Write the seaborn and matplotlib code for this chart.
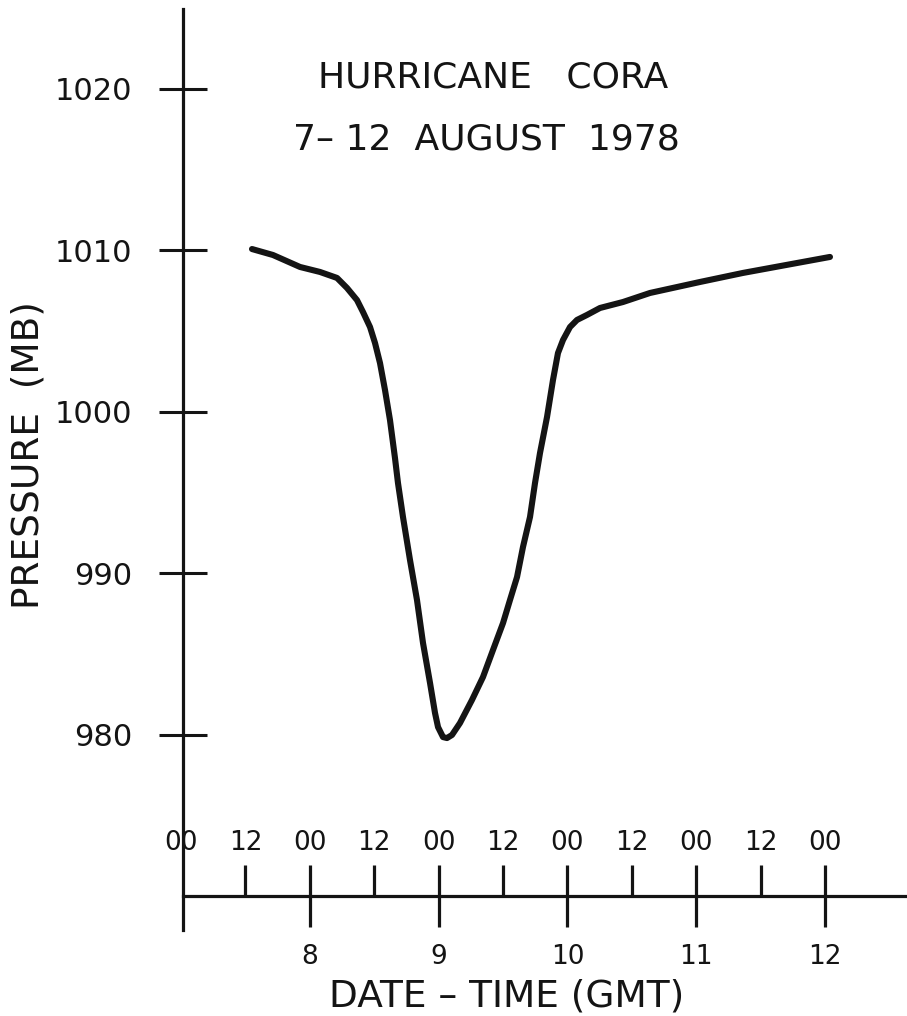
import numpy as np
import pandas as pd
import matplotlib
matplotlib.use("Agg")
import matplotlib.pyplot as plt
import seaborn as sns

# ---- data (hours after 00 GMT 7 Aug 1978, pressure in mb) ----
hours = [13.23, 17.14, 22.17, 25.90, 29.07, 30.93, 32.79, 33.91, 35.22, 36.15,
         37.08, 38.01, 38.94, 39.87, 40.43, 41.36, 42.67, 43.97, 45.09, 46.40,
         47.33, 47.89, 48.82, 49.56, 50.49, 51.98, 54.22, 56.27, 58.13, 60.00,
         61.30, 62.61, 63.72, 65.03, 65.96, 66.89, 68.20, 69.31, 70.24, 71.18,
         72.48, 73.79, 75.65, 78.07, 82.36, 87.39, 96.70, 104.71, 120.92]
pressure = [1010.06, 1009.69, 1008.95, 1008.64, 1008.27, 1007.65, 1006.90, 1006.16,
            1005.23, 1004.24, 1003.00, 1001.33, 999.47, 997.12, 995.57, 993.47,
            990.80, 988.33, 985.67, 983.19, 981.33, 980.46, 979.84, 979.78, 979.97,
            980.71, 982.14, 983.56, 985.23, 986.90, 988.33, 989.75, 991.61, 993.47,
            995.57, 997.43, 999.66, 1001.95, 1003.62, 1004.43, 1005.23, 1005.67,
            1005.98, 1006.41, 1006.78, 1007.34, 1008.02, 1008.58, 1009.57]

y_ticks = [980, 990, 1000, 1010, 1020]
hour_ticks = [0, 12, 24, 36, 48, 60, 72, 84, 96, 108, 120]
hour_labels = ["00", "12", "00", "12", "00", "12", "00", "12", "00", "12", "00"]
day_ticks = [24, 48, 72, 96, 120]
day_labels = ["8", "9", "10", "11", "12"]
minor_ticks = [12, 36, 60, 84, 108]
title_line1 = "HURRICANE   CORA"
title_line2 = "7\u2013 12  AUGUST  1978"
x_label = "DATE \u2013 TIME (GMT)"
y_label = "PRESSURE  (MB)"

# ---- layout ----
W, H = 907, 1016
px0, px_per_h = 181.0, 5.367      # pixel x of hour 0, pixels per hour
py1010, px_per_mb = 250.0, 16.15  # pixel y of 1010 mb, pixels per mb

xmin = (0 - px0) / px_per_h
xmax = (W - px0) / px_per_h
ymax = 1010 + py1010 / px_per_mb
ymin = 1010 - (H - py1010) / px_per_mb

sns.set_theme(style="white")
plt.rcParams['font.family'] = ['DejaVu Sans']
ink = '#141414'

fig = plt.figure(figsize=(W / 100, H / 100), dpi=100)
ax = fig.add_axes([0, 0, 1, 1])
ax.set_facecolor('white')

df = pd.DataFrame({'hour': hours, 'pressure': pressure})
sns.lineplot(data=df, x='hour', y='pressure', sort=False, color=ink, lw=4.4,
             ax=ax, solid_capstyle='round', solid_joinstyle='round')

ax.set_xlim(xmin, xmax)
ax.set_ylim(ymin, ymax)

for s in ['top', 'right']:
    ax.spines[s].set_visible(False)
axis_y_at = 0.4
axis_x_at = 970.0
ax.spines['left'].set_position(('data', axis_y_at))
ax.spines['left'].set_bounds(1010 - (930 - py1010) / px_per_mb,
                             1010 + (py1010 - 9) / px_per_mb)
ax.spines['bottom'].set_position(('data', axis_x_at))
ax.spines['bottom'].set_bounds(axis_y_at, xmax)
for s in ['left', 'bottom']:
    ax.spines[s].set_linewidth(2.3)
    ax.spines[s].set_color(ink)

ax.set_yticks(y_ticks)
ax.set_yticklabels([str(v) for v in y_ticks])
ax.tick_params(axis='y', which='major', left=True, direction='inout', length=34.5,
               width=2.2, pad=19.4, labelsize=22, color=ink, labelcolor=ink)

ax.set_xticks(day_ticks)
ax.set_xticklabels(day_labels)
ax.set_xticks(minor_ticks, minor=True)
ax.tick_params(axis='x', which='major', bottom=True, direction='inout', length=44.6,
               width=2.3, pad=12, labelsize=19, color=ink, labelcolor=ink)
ax.tick_params(axis='x', which='minor', bottom=True, direction='in', length=22.3,
               width=2.3, color=ink)

ax.set_xlabel(x_label, fontsize=27, color=ink)
ax.xaxis.set_label_coords(507 / W, 1 - 997 / H)
ax.xaxis.label.set_verticalalignment('center')
ax.set_ylabel(y_label, fontsize=27, color=ink)
ax.yaxis.set_label_coords(29 / W, 1 - 455 / H)
ax.yaxis.label.set_verticalalignment('center')

# hour labels above the time axis
ax2 = ax.twiny()
ax2.set_xlim(xmin, xmax)
for s in ax2.spines.values():
    s.set_visible(False)
ax2.spines['top'].set_position(('axes', (H - 896) / H))
ax2.set_xticks(hour_ticks)
ax2.set_xticklabels(hour_labels)
ax2.tick_params(axis='x', top=True, length=0, pad=28.8, labelsize=19, labelcolor=ink)
ax2.set_zorder(ax.get_zorder() + 1)
ax2.patch.set_visible(False)

fig.text(493 / W, 1 - 78 / H, title_line1, fontsize=26, color=ink,
         ha='center', va='center')
fig.text(486 / W, 1 - 140 / H, title_line2, fontsize=26, color=ink,
         ha='center', va='center')

fig.savefig('out.png', dpi=100, facecolor='white')
